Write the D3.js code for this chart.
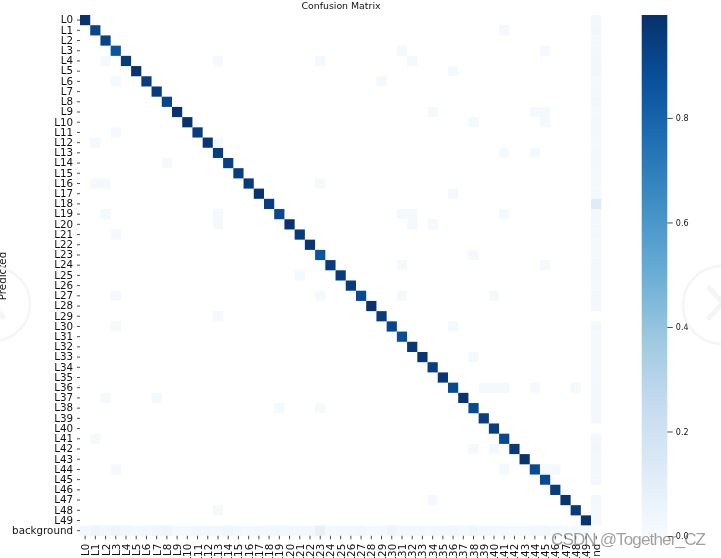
<!DOCTYPE html>
<html>
<head>
<meta charset="utf-8">
<script src="https://cdn.jsdelivr.net/npm/d3@7"></script>
<style>
html,body{margin:0;padding:0;background:#fff;overflow:hidden;width:721px;height:558px}
svg{display:block;filter:blur(0.4px)}
text{font-family:"DejaVu Sans",sans-serif;fill:#111}
</style>
</head>
<body>
<svg id="c" width="721" height="558"></svg>
<script>
const classNames = d3.range(50).map(i => "L" + i).concat(["background"]);
const diagonalValues = [.99,.92,.93,.86,.96,.99,.95,.96,.92,.99,.99,.95,.98,.95,.94,.95,.96,.99,.95,.91,.99,.96,.98,.86,.96,.96,.96,.90,.99,.96,.92,.89,.97,.98,.95,.98,.90,.99,.90,.95,.95,.91,.97,.99,.90,.90,.96,.99,.96,.99];
const backgroundColumn = [.025,.03,.015,.02,.035,.03,.015,.025,.03,.015,.025,.025,.015,.02,.02,.015,.015,.015,.12,.025,.02,.02,.015,.015,.02,.025,.015,.02,.02,0,.02,.015,.015,.015,.015,.015,.025,.02,.02,.02,0,.02,.03,.02,.025,.025,0,.02,.015,.015];
const backgroundRow = [.02,.05,.04,.05,.04,.02,.035,.04,.05,.015,.015,.03,.02,.025,.04,.02,.015,.02,.035,.035,.03,.02,.02,.08,.02,.02,.02,.03,.015,.02,.05,.02,.02,.02,.02,.02,.04,.02,.04,.02,.02,.02,.015,.015,.03,.03,.015,.01,.02,.01];
const faintCells = [
[1,41],[3,31],[3,45],[4,2],[4,13],[4,23],[4,32],[5,36],[6,3],[6,29],[9,34],[9,44],[9,45],[10,38],[10,45],
[11,3],[12,1],[12,13],[13,41],[13,44],[14,8],[16,1],[16,2],[16,23],[17,36],[19,2],[19,13],[19,31],[19,32],[19,41],
[20,13],[20,32],[20,34],[21,3],[23,38],[24,31],[24,45],[25,21],[27,3],[27,23],[27,31],[27,40],[29,13],[30,3],[30,36],
[33,38],[36,39],[36,40],[36,41],[36,44],[36,48],[37,2],[37,7],[38,19],[38,23],[41,1],[42,38],[42,40],[44,3],[44,41],[44,45],[44,46],[47,34],[48,13]];
const faintValue = 0.015;
const colorbarTicks = [0, .2, .4, .6, .8];

const svg = d3.select("#c");
const x = d3.scaleBand().domain(classNames).range([80, 601.3]);
const y = d3.scaleBand().domain(classNames).range([15, 535.8]);
const stops = d3.range(9).map(i => i / 8);
const blues = d3.scaleLinear().domain(stops).range(d3.schemeBlues[9]).interpolate(d3.interpolateRgb);

const cells = [];
diagonalValues.forEach((v, i) => cells.push({r: i, c: i, v}));
backgroundColumn.forEach((v, i) => cells.push({r: i, c: 50, v}));
backgroundRow.forEach((v, i) => cells.push({r: 50, c: i, v}));
faintCells.forEach(([r, c]) => cells.push({r, c, v: faintValue}));

svg.append("g").selectAll("rect").data(cells.filter(d => d.v > 0)).join("rect")
  .attr("x", d => x(classNames[d.c])).attr("y", d => y(classNames[d.r]))
  .attr("width", x.bandwidth()).attr("height", y.bandwidth())
  .attr("fill", d => blues(d.v));

const gy = svg.append("g").attr("transform", "translate(80,0)").call(d3.axisLeft(y).tickSize(3).tickPadding(4));
gy.select(".domain").remove();
gy.selectAll("text").style("font-size", "10.3px");
gy.selectAll("line").attr("stroke", "#222").attr("stroke-width", .8);

const gx = svg.append("g").attr("transform", "translate(0,535.8)").call(d3.axisBottom(x).tickSize(3.5));
gx.select(".domain").remove();
gx.selectAll("line").attr("stroke", "#222").attr("stroke-width", .8);
gx.selectAll("text").style("font-size", "10.3px")
  .attr("text-anchor", "end").attr("dominant-baseline", "central").attr("dy", null)
  .attr("x", 0).attr("y", 0)
  .attr("transform", "translate(0,8) rotate(-90)");

svg.append("text").attr("x", 341).attr("y", 9).attr("text-anchor", "middle").style("font-size", "9.4px").text("Confusion Matrix");
svg.append("text").attr("transform", "translate(6,276) rotate(-90)").attr("text-anchor", "middle").style("font-size", "10.3px").text("Predicted");

// colour bar
const cbY = d3.scaleLinear().domain([0, 0.997]).range([536, 15]);
const grad = svg.append("defs").append("linearGradient").attr("id", "cb").attr("x1", 0).attr("x2", 0).attr("y1", 1).attr("y2", 0);
grad.selectAll("stop").data(stops).join("stop")
  .attr("offset", d => d).attr("stop-color", d => blues(d));
svg.append("rect").attr("x", 641.7).attr("width", 25.6)
  .attr("y", cbY.range()[1]).attr("height", cbY.range()[0] - cbY.range()[1])
  .attr("fill", "url(#cb)");
const gc = svg.append("g").attr("transform", "translate(667.3,0)").call(d3.axisRight(cbY).tickValues(colorbarTicks).tickFormat(d3.format(".1f")).tickSize(5.5).tickPadding(3));
gc.select(".domain").remove();
gc.selectAll("text").style("font-size", "8px");
gc.selectAll("line").attr("stroke", "#222").attr("stroke-width", .8);

// platform watermark
const wm = svg.append("g").attr("fill", "none").attr("stroke", "#f5f5f5");
wm.append("circle").attr("cx", -7).attr("cy", 304).attr("r", 37).attr("stroke-width", 2.5);
wm.append("circle").attr("cx", 722).attr("cy", 305).attr("r", 39).attr("stroke-width", 2.5);
wm.append("path").attr("d", "M709,288L723,303L709,318").attr("stroke-width", 5).attr("stroke-linecap", "round");
wm.append("path").attr("d", "M-3,310L3,317").attr("stroke-width", 5).attr("stroke-linecap", "round");
svg.append("text").attr("x", 551).attr("y", 545).style("font-family", "'Liberation Sans',sans-serif")
  .style("font-size", "17px").style("fill", "rgba(120,120,120,.7)").attr("textLength", 155).text("CSDN @Together_CZ");
</script>
</body>
</html>
